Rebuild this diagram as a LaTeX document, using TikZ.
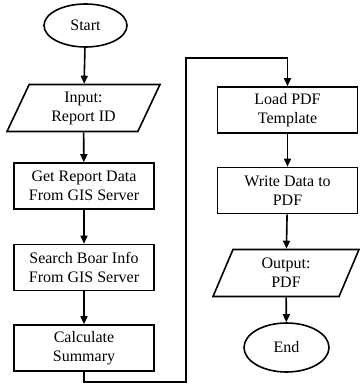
\documentclass[tikz,border=0pt]{standalone}
\usepackage{fontspec}
\setmainfont{Liberation Serif}
\usetikzlibrary{shapes.geometric,arrows.meta}
\begin{document}
\begin{tikzpicture}[x=1pt,y=-1pt,
  every node/.style={font=\rmfamily\fontsize{16}{19}\selectfont, align=center, inner sep=0pt},
  proc/.style={draw, line width=1.6pt, minimum width=140pt, minimum height=46pt},
  term/.style={draw, ellipse, line width=1.6pt},
  io/.style={draw, trapezium, trapezium left angle=56, trapezium right angle=124, trapezium stretches body, line width=1.6pt, minimum height=47pt},
  conn/.style={line width=1.6pt, -{Triangle[length=8pt,width=7pt]}}]
\useasboundingbox (0,0) rectangle (362,387);
\node[term, minimum width=83pt, minimum height=43pt] (start) at (85.5,25.5) {Start};
\node[io, minimum width=153pt] (in) at (83.5,108) {Input:\\Report ID};
\node[proc] (get) at (84,186) {Get Report Data\\From GIS Server};
\node[proc] (search) at (84,267.5) {Search Boar Info\\From GIS Server};
\node[proc] (calc) at (84,348) {Calculate\\Summary};
\node[proc] (load) at (287.5,110) {Load PDF\\Template};
\node[proc] (write) at (287.5,190.5) {Write Data to\\PDF};
\node[io, minimum width=146pt] (out) at (286,273) {Output:\\PDF};
\node[term, minimum width=85pt, minimum height=49pt] (end) at (286.5,347.5) {End};
\coordinate (c1) at (calc.south |- 0,382);
\coordinate (c2) at (186,382);
\coordinate (c3) at (186,58);
\coordinate (c4) at (load.north |- 0,58);
\draw[conn] (start) -- (in);
\draw[conn] (in) -- (get);
\draw[conn] (get) -- (search);
\draw[conn] (search) -- (calc);
\draw[conn] (calc.south) -- (c1) -- (c2) -- (c3) -- (c4) -- (load.north);
\draw[conn] (load) -- (write);
\draw[conn] (write) -- (out);
\draw[conn] (out) -- (end);
\end{tikzpicture}
\end{document}
